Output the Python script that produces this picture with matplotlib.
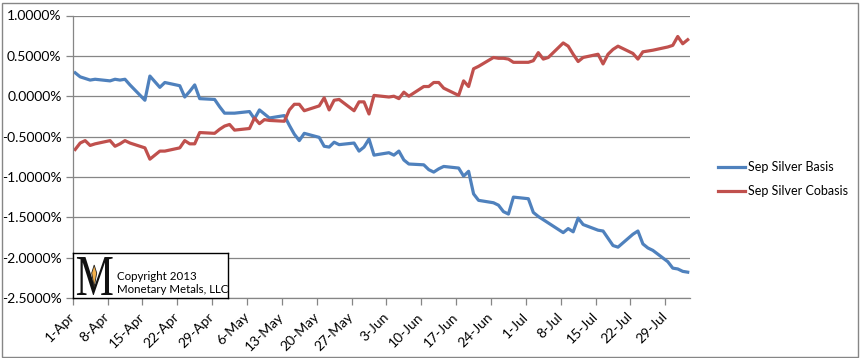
import numpy as np
import pandas as pd
import matplotlib
matplotlib.use("Agg")
import matplotlib.pyplot as plt
from matplotlib.patches import Rectangle, Polygon, PathPatch
from matplotlib.lines import Line2D
from matplotlib.textpath import TextPath
from matplotlib.font_manager import FontProperties
from matplotlib.transforms import Affine2D

plt.rcParams["font.family"] = ["Lato", "DejaVu Sans"]

# trading days, 1-Apr-2013 .. 2-Aug-2013
dates = pd.bdate_range("2013-04-01", "2013-08-02")

# Sep silver basis / cobasis, in percent
basis = [
    0.29, 0.24, 0.22, 0.20, 0.21,
    0.19, 0.21, 0.20, 0.21, 0.14,
    -0.05, 0.25, 0.18, 0.11, 0.17,
    0.13, -0.01, 0.06, 0.14, -0.03,
    -0.04, -0.13,
    -0.21, -0.21, -0.21,
    -0.19, -0.28, -0.17, -0.22, -0.27,
    -0.24, -0.36, -0.47, -0.55, -0.46,
    -0.51, -0.62, -0.63, -0.57, -0.60,
    -0.58, -0.68, -0.63, -0.53, -0.73,
    -0.70, -0.73, -0.68, -0.79, -0.84,
    -0.85, -0.91, -0.94, -0.90, -0.87,
    -0.89, -0.99, -0.93, -1.21, -1.29,
    -1.32, -1.35, -1.43, -1.46, -1.25,
    -1.27, -1.44, -1.49, -1.53, -1.57,
    -1.69, -1.64, -1.68, -1.51, -1.59,
    -1.66, -1.67, -1.76, -1.85, -1.87,
    -1.71, -1.67, -1.83, -1.88, -1.91,
    -2.05, -2.13, -2.14,
    -2.17, -2.18,
]
cobasis = [
    -0.66, -0.58, -0.55, -0.61, -0.59,
    -0.55, -0.62, -0.59, -0.55, -0.58,
    -0.64, -0.78, -0.73, -0.68, -0.68,
    -0.64, -0.55, -0.59, -0.59, -0.45,
    -0.46, -0.41,
    -0.37, -0.35, -0.42,
    -0.40, -0.27, -0.34, -0.29, -0.30,
    -0.31, -0.17, -0.10, -0.10, -0.18,
    -0.12, -0.02, -0.17, -0.05, -0.04,
    -0.18, -0.07, -0.07, -0.22, 0.01,
    -0.01, 0.00, -0.03, 0.05, 0.00,
    0.12, 0.12, 0.17, 0.17, 0.10,
    0.01, 0.19, 0.12, 0.34, 0.37,
    0.48, 0.47, 0.47, 0.46, 0.42,
    0.42, 0.44, 0.54, 0.46, 0.48,
    0.66, 0.62, 0.52, 0.43, 0.48,
    0.52, 0.40, 0.52, 0.58, 0.62,
    0.53, 0.46, 0.55, 0.56, 0.57,
    0.61, 0.63, 0.74,
    0.65, 0.70,
]
series_names = ["Sep Silver Basis", "Sep Silver Cobasis"]
series_colors = ["#4F81BD", "#C0504D"]
ytick_vals = [1.0, 0.5, 0.0, -0.5, -1.0, -1.5, -2.0, -2.5]

W, H = 860, 358
GRAY = "#868686"
FS = 10

fig = plt.figure(figsize=(W / 100, H / 100), dpi=100)
ax = fig.add_axes([72.7 / W, 1 - 298 / H, (690.2 - 72.7) / W, (298 - 15.5) / H])

# points sit in the middle of each day slot (excel date axis)
xpos = dates + pd.Timedelta(hours=12)
for vals, name, col in zip([basis, cobasis], series_names, series_colors):
    ax.plot(xpos, vals, color=col, lw=2.3, label=name, solid_joinstyle="round")

ax.set_xlim(pd.Timestamp("2013-04-01"), pd.Timestamp("2013-08-03"))
ax.set_ylim(-2.5, 1.0)
ax.set_yticks(ytick_vals)
ax.set_yticklabels([f"{v:.4f}%" for v in ytick_vals], fontsize=FS)
ax.grid(axis="y", color=GRAY, lw=0.9)
ax.set_axisbelow(True)

xticks = pd.date_range("2013-04-01", "2013-07-29", freq="7D")
ax.set_xticks(xticks)
ax.set_xticklabels([f"{d.day}-{d.strftime('%b')}" for d in xticks], fontsize=FS,
                   rotation=45, ha="right", va="center", rotation_mode="anchor")

for s in ["top", "right"]:
    ax.spines[s].set_visible(False)
for s in ["left", "bottom"]:
    ax.spines[s].set_color(GRAY)
    ax.spines[s].set_linewidth(0.9)
ax.tick_params(axis="both", colors=GRAY, length=5, width=0.9, labelcolor="black")
ax.tick_params(axis="y", pad=3)
ax.tick_params(axis="x", pad=7)

# legend, drawn by hand so it sits where excel put it
for i, (name, col) in enumerate(zip(series_names, series_colors)):
    ly = 1 - (167 + 24 * i) / H
    fig.add_artist(Line2D([718 / W, 745 / W], [ly, ly], color=col, lw=2.3,
                          transform=fig.transFigure))
    fig.text(748 / W, ly, name, fontsize=9, ha="left", va="center")

# outer chart border
fig.patches.append(Rectangle((1.5 / W, 1.5 / H), (857.5 - 1.5) / W, (355.5 - 1.5) / H,
                             transform=fig.transFigure, fill=False,
                             edgecolor=GRAY, lw=1))

# copyright box
cax = fig.add_axes([72.7 / W, 1 - 298 / H, 155 / W, 45 / H])
cax.set_xlim(0, 155)
cax.set_ylim(0, 45)
cax.set_xticks([])
cax.set_yticks([])
cax.patch.set_facecolor("white")
for s in cax.spines.values():
    s.set_color("black")
    s.set_linewidth(1)
mpath = TextPath((0, 0), "M", size=58, prop=FontProperties(family="Liberation Serif"))
mpath = Affine2D().scale(0.74, 1.0).translate(3, 3).transform_path(mpath)
cax.add_patch(PathPatch(mpath, facecolor="#111111", edgecolor="none"))
cax.add_patch(Polygon([[21.5, 33], [24, 25], [21.5, 11], [19, 25]], closed=True,
                      facecolor="#F4B04A", edgecolor="#222222", lw=0.6))
cax.text(44, 15, "Copyright 2013\nMonetary Metals, LLC", fontsize=8.3, ha="left",
         va="center", linespacing=1.25)

fig.savefig("out.png", dpi=100)
